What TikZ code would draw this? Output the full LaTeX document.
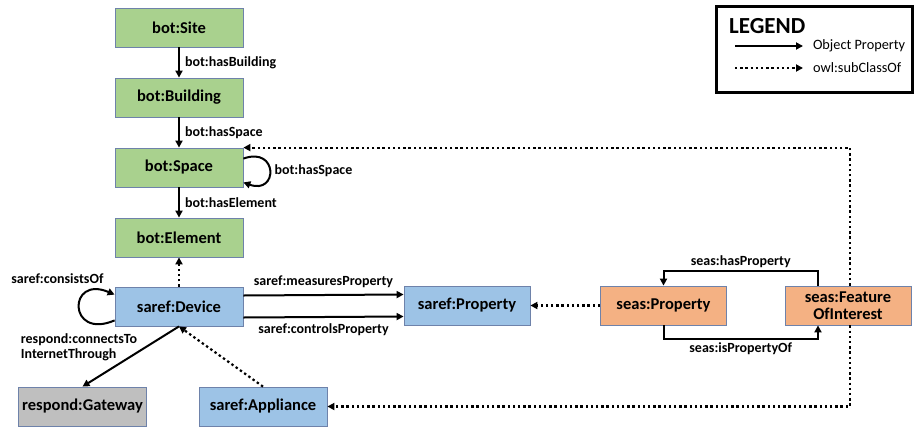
\documentclass[tikz,border=0pt]{standalone}
\usepackage{fontspec}
\setmainfont{Carlito}
\usetikzlibrary{arrows.meta}

\definecolor{botgreen}{HTML}{A9D18E}
\definecolor{sarefblue}{HTML}{9DC3E6}
\definecolor{seasorange}{HTML}{F4B183}
\definecolor{resgray}{HTML}{BFBFBF}
\definecolor{clsborder}{RGB}{110,130,170}

\tikzset{
	cls/.style={draw=clsborder, line width=0.8pt, minimum width=128pt, minimum height=39pt, inner sep=0pt, align=center, font=\fontsize{16.5}{17}\selectfont\bfseries},
	botcls/.style={cls, fill=botgreen},
	sarefcls/.style={cls, fill=sarefblue},
	seascls/.style={cls, fill=seasorange, minimum width=126pt},
	rescls/.style={cls, fill=resgray},
	rel/.style={line width=2pt, -{Triangle[length=7pt,width=7pt]}},
	sub/.style={rel, line width=2.2pt, dash pattern=on 2.4pt off 2.8pt},
	lbl/.style={font=\fontsize{14}{15}\selectfont\bfseries, inner sep=2pt},
	legtxt/.style={font=\fontsize{14.3}{15}\selectfont, anchor=west, inner sep=0pt, xshift=9pt},
}

\begin{document}
\begin{tikzpicture}[x=1pt,y=-1pt]
			\useasboundingbox (0,0) rectangle (915,426);

			\node[botcls] (site) at (179,27.5) {bot:Site};
			\node[botcls] (building) at (179,97.5) {bot:Building};
			\node[botcls] (space) at (179,167.5) {bot:Space};
			\node[botcls] (element) at (179,237.5) {bot:Element};
			\node[sarefcls] (device) at (179,306.5) {saref:Device};
			\node[rescls] (gateway) at (82.5,406.5) {respond:Gateway};
			\node[sarefcls] (appliance) at (263,406.5) {saref:Appliance};
			\node[sarefcls, minimum width=126pt] (sprop) at (467,305.5) {saref:Property};
			\node[seascls] (seasprop) at (663.5,305.5) {seas:Property};
			\node[seascls] (foi) at (848,305.5) {seas:Feature\\OfInterest};

			\draw[rel] (site) -- node[lbl, right=3pt] {bot:hasBuilding} (building);
			\draw[rel] (building) -- node[lbl, right=3pt] {bot:hasSpace} (space);
			\draw[rel] (space) -- node[lbl, right=3pt] {bot:hasElement} (element);
			\draw[rel] ([yshift=-11pt]space.north east) to[out=20,in=-20,looseness=4] node[lbl, right=2pt] {bot:hasSpace} ([yshift=5pt]space.south east);
			\draw[rel] ([yshift=6pt]device.south west) .. controls +(-47,20) and +(-47,-20) .. ([yshift=-8pt]device.north west) node[lbl, pos=0.5, xshift=-22pt, yshift=29pt] {saref:consistsOf};

			\draw[sub] (device) -- (element);
			\draw[rel] ([yshift=11pt]device.east) -- node[lbl, above=4pt] {saref:measuresProperty} ([yshift=11pt]sprop.west);
			\draw[rel] ([yshift=-11pt]device.east) -- node[lbl, below=4pt] {saref:controlsProperty} ([yshift=-11pt]sprop.west);
			\draw[rel] (device.south) -- node[lbl, pos=0.34, anchor=east, xshift=-6pt, align=left] {respond:connectsTo\\InternetThrough} (gateway.north);
			\draw[sub] (appliance.north) -- (device.south);

			\draw[sub] (seasprop) -- (sprop);
			\draw[rel] ([xshift=-30pt]foi.north) |- node[lbl, pos=0.75, above] {seas:hasProperty} ([yshift=15pt]seasprop.north) -- (seasprop.north);
			\draw[rel] (seasprop.south) -- ++(0,14) -| node[lbl, pos=0.25, below] {seas:isPropertyOf} ([xshift=-30pt]foi.south);
			\draw[sub] ([xshift=2pt]foi.north) |- (space.north east);
			\draw[sub] ([xshift=2pt]foi.south) |- (appliance.east);

			\draw[line width=3pt] (716,6) rectangle (912,92);
			\node[anchor=west, font=\fontsize{23}{24}\selectfont\bfseries, inner sep=0pt] (legend) at (729,26) {LEGEND};
			\coordinate (obja) at (735,46);
			\coordinate (objb) at (803,46);
			\coordinate (suba) at (735,68);
			\coordinate (subb) at (803,68);
			\draw[rel] (obja) -- (objb) node[legtxt] {Object Property};
			\draw[sub] (suba) -- (subb) node[legtxt] {owl:subClassOf};
		\end{tikzpicture}
\end{document}
